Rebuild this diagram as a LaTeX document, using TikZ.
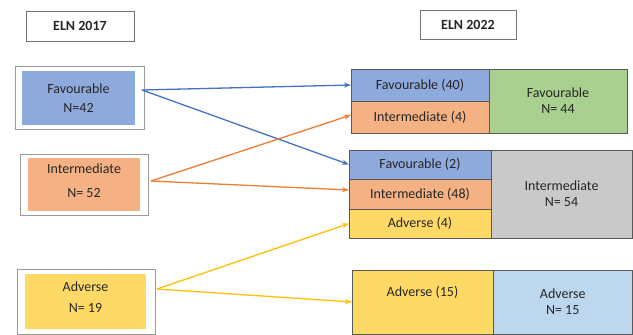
\documentclass[tikz,border=0pt]{standalone}
\usepackage{fontspec}
\setmainfont{Carlito}
\usetikzlibrary{arrows.meta}
\definecolor{favfill}{HTML}{8EA9DB}
\definecolor{intfill}{HTML}{F4B183}
\definecolor{advfill}{HTML}{FFD966}
\definecolor{greenfill}{HTML}{A9D08E}
\definecolor{grayfill}{HTML}{C9C9C9}
\definecolor{skyfill}{HTML}{BDD7EE}
\definecolor{favline}{HTML}{4472C4}
\definecolor{intline}{HTML}{ED7D31}
\definecolor{advline}{HTML}{FFC000}
\definecolor{txt}{HTML}{262626}
\begin{document}
\begin{tikzpicture}[
  x=1pt, y=-1pt,
  every node/.style={inner sep=0pt, outer sep=0pt, align=center, text=txt,
    font=\fontsize{14}{16}\selectfont},
  header/.style={draw=black!55, line width=0.8pt, font=\fontsize{14}{16}\selectfont\bfseries},
  frame/.style={draw=black!40, line width=0.9pt, fill=white},
  cell/.style={draw=black!65, line width=0.9pt},
  arrow/.style={-{Stealth[length=7pt,width=5pt]}, line width=1.3pt}
]
\useasboundingbox (0,0) rectangle (633,335);

% ELN 2017
\node[header, minimum width=108pt, minimum height=30pt] (h17) at (80,26) {ELN 2017};
\node[frame, minimum width=129pt, minimum height=63pt] (favo) at (79.5,97.5) {};
\node[fill=favfill, minimum width=113pt, minimum height=54pt] (favi) at (78.5,98) {Favourable\\[3pt]N=42};
\node[frame, minimum width=128pt, minimum height=61pt] (into) at (84,184.5) {};
\node[fill=intfill, minimum width=112pt, minimum height=53pt] (inti) at (84,184.5) {Intermediate\\[8pt]N= 52\\[-8pt]\mbox{}};
\node[frame, minimum width=138pt, minimum height=65pt] (advo) at (86,301.5) {};
\node[fill=advfill, minimum width=121pt, minimum height=55pt] (advi) at (85.5,301.5) {Adverse\\[5pt]N= 19\\[-8pt]\mbox{}};

% ELN 2022
\node[header, minimum width=96pt, minimum height=29pt] (h22) at (468,24.5) {ELN 2022};
\node[cell, fill=favfill, minimum width=138pt, minimum height=32pt] (fav40) at (420,85) {Favourable (40)};
\node[cell, fill=intfill, minimum width=138pt, minimum height=32pt] (int4) at (420,117) {Intermediate (4)};
\node[cell, fill=greenfill, minimum width=138pt, minimum height=64pt] (fav44) at (558,101) {Favourable\\N= 44};
\node[cell, fill=favfill, minimum width=142pt, minimum height=29pt] (fav2) at (420,164.5) {Favourable (2)};
\node[cell, fill=intfill, minimum width=142pt, minimum height=30pt] (int48) at (420,194) {Intermediate (48)};
\node[cell, fill=advfill, minimum width=142pt, minimum height=29pt] (adv4) at (420,223.5) {Adverse (4)};
\node[cell, fill=grayfill, minimum width=141pt, minimum height=88pt] (int54) at (561.5,194) {Intermediate\\N= 54};
\node[cell, fill=advfill, minimum width=141pt, minimum height=64pt] (adv15) at (422.5,302) {Adverse (15)\\\strut};
\node[cell, fill=skyfill, minimum width=139.5pt, minimum height=64pt] (adv15r) at (562.75,302) {Adverse\\N= 15};

% free ends of the connectors
\coordinate (favout) at (142,90);
\coordinate (intout) at (151,181);
\coordinate (advout) at (157,289);

\draw[arrow, favline] (favout) -- (fav40.west);
\draw[arrow, favline] (favout) -- (fav2.west);
\draw[arrow, intline] (intout) -- ([yshift=2pt]int4.west);
\draw[arrow, intline] (intout) -- ([yshift=4pt]int48.west);
\draw[arrow, advline] (advout) -- (adv4.west);
\draw[arrow, advline] (advout) -- (adv15.west);
\end{tikzpicture}
\end{document}
